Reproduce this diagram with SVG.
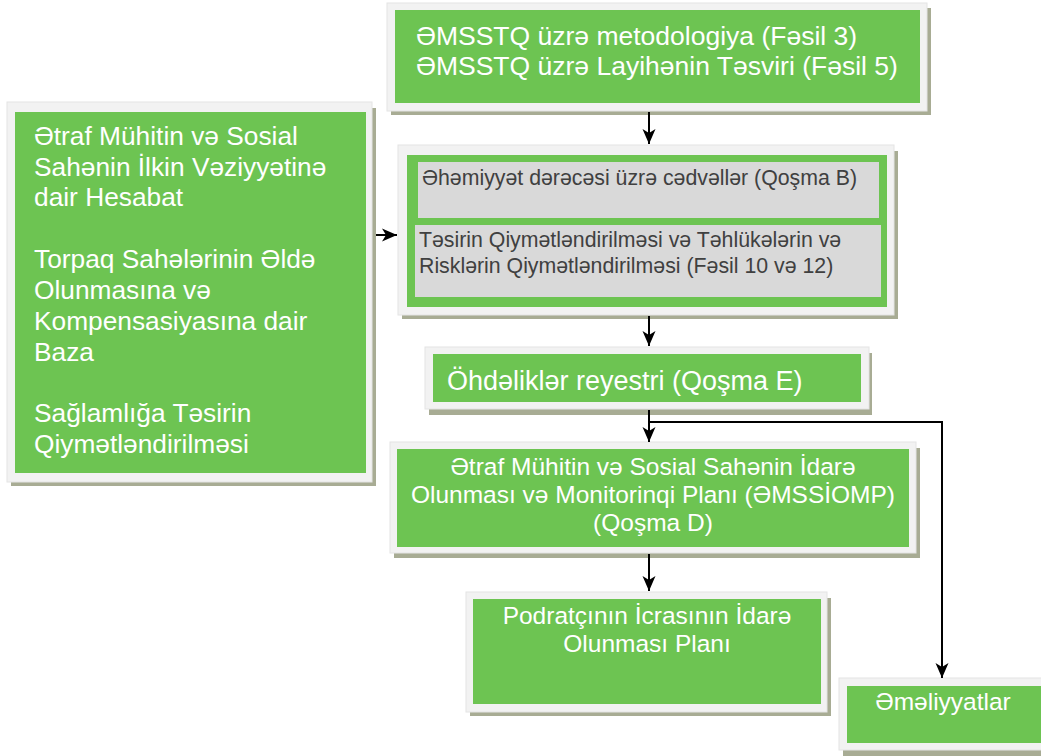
<svg xmlns="http://www.w3.org/2000/svg" width="1041" height="756" viewBox="0 0 1041 756">
<defs>
<style>
.sh{fill:#a8ac94}
.fr{fill:#f2f2f2;stroke:#e4e4e4;stroke-width:1}
.gr{fill:#6dc452}
.gy{fill:#d9d9d9}
.tw{fill:#ffffff;font-family:"Liberation Sans",Arial,sans-serif}
.td{fill:#404040;font-family:"Liberation Sans",Arial,sans-serif;font-size:21.3px}
.c{fill:none;stroke:#000;stroke-width:2}
</style>
<marker id="ah" markerUnits="userSpaceOnUse" markerWidth="16" markerHeight="14" refX="15" refY="7" orient="auto">
<path d="M0,0.5 L15,7 L0,13.5 L4,7 Z" fill="#000"/>
</marker>
</defs>
<rect width="1041" height="756" fill="#ffffff"/>

<g id="n1">
<rect class="sh" x="391" y="8" width="540" height="107"/>
<rect class="fr" x="387" y="3" width="540" height="108"/>
<rect class="gr" x="395" y="10" width="525" height="93"/>
<text class="tw" font-size="26.5" x="416" y="45">ƏMSSTQ üzrə metodologiya (Fəsil 3)</text>
<text class="tw" font-size="26.5" x="416" y="75">ƏMSSTQ üzrə Layihənin Təsviri (Fəsil 5)</text>
</g>

<g id="n2">
<rect class="sh" x="11" y="108" width="365" height="378"/>
<rect class="fr" x="7" y="102" width="365" height="380"/>
<rect class="gr" x="15" y="112" width="351" height="361"/>
<text class="tw" font-size="26.3" x="34" y="145">Ətraf Mühitin və Sosial</text>
<text class="tw" font-size="26.3" x="34" y="176">Sahənin İlkin Vəziyyətinə</text>
<text class="tw" font-size="26.3" x="34" y="206">dair Hesabat</text>
<text class="tw" font-size="26.3" x="34" y="268">Torpaq Sahələrinin Əldə</text>
<text class="tw" font-size="26.3" x="34" y="299">Olunmasına və</text>
<text class="tw" font-size="26.3" x="34" y="330">Kompensasiyasına dair</text>
<text class="tw" font-size="26.3" x="34" y="361">Baza</text>
<text class="tw" font-size="26.3" x="34" y="422">Sağlamlığa Təsirin</text>
<text class="tw" font-size="26.3" x="34" y="453">Qiymətləndirilməsi</text>
</g>

<g id="n3">
<rect class="sh" x="402" y="151" width="496" height="168"/>
<rect class="fr" x="398" y="145" width="496" height="170"/>
<rect class="gr" x="407" y="155" width="480" height="152"/>
<rect class="gy" x="418" y="162" width="461" height="56"/>
<rect class="gy" x="415" y="225" width="466" height="72"/>
<text class="td" x="422" y="185">Əhəmiyyət dərəcəsi üzrə cədvəllər (Qoşma B)</text>
<text class="td" x="419" y="247">Təsirin Qiymətləndirilməsi və Təhlükələrin və</text>
<text class="td" x="419" y="273">Risklərin Qiymətləndirilməsi (Fəsil 10 və 12)</text>
</g>

<g id="n4">
<rect class="sh" x="429" y="353" width="443" height="62"/>
<rect class="fr" x="425" y="347" width="444" height="62"/>
<rect class="gr" x="433" y="354" width="428" height="48"/>
<text class="tw" font-size="27" x="447" y="390">Öhdəliklər reyestri (Qoşma E)</text>
</g>

<g id="n5">
<rect class="sh" x="394" y="448" width="526" height="110"/>
<rect class="fr" x="390" y="442" width="526" height="111"/>
<rect class="gr" x="397" y="449" width="512" height="98"/>
<text class="tw" font-size="24.5" x="653" y="475" text-anchor="middle">Ətraf Mühitin və Sosial Sahənin İdarə</text>
<text class="tw" font-size="24.5" x="653" y="503" text-anchor="middle">Olunması və Monitorinqi Planı (ƏMSSİOMP)</text>
<text class="tw" font-size="24.5" x="653" y="531" text-anchor="middle">(Qoşma D)</text>
</g>

<g id="n6">
<rect class="sh" x="470" y="598" width="361" height="118"/>
<rect class="fr" x="466" y="592" width="361" height="120"/>
<rect class="gr" x="473" y="599" width="348" height="105"/>
<text class="tw" font-size="24.5" x="647" y="624" text-anchor="middle">Podratçının İcrasının İdarə</text>
<text class="tw" font-size="24.5" x="647" y="652" text-anchor="middle">Olunması Planı</text>
</g>

<g id="n7">
<rect class="sh" x="843" y="684" width="210" height="72"/>
<rect class="fr" x="839" y="678" width="210" height="72"/>
<rect class="gr" x="847" y="686" width="200" height="57"/>
<text class="tw" font-size="24.5" x="943" y="710" text-anchor="middle">Əməliyyatlar</text>
</g>

<g id="connectors">
<path class="c" d="M649,112 L649,144" marker-end="url(#ah)"/>
<path class="c" d="M376,235 L397,235" marker-end="url(#ah)"/>
<path class="c" d="M649,316 L649,346" marker-end="url(#ah)"/>
<path class="c" d="M649,410 L649,442" marker-end="url(#ah)"/>
<path class="c" d="M649,422 L942,422 L942,678" marker-end="url(#ah)"/>
<path class="c" d="M649,554 L649,591" marker-end="url(#ah)"/>
</g>
</svg>
